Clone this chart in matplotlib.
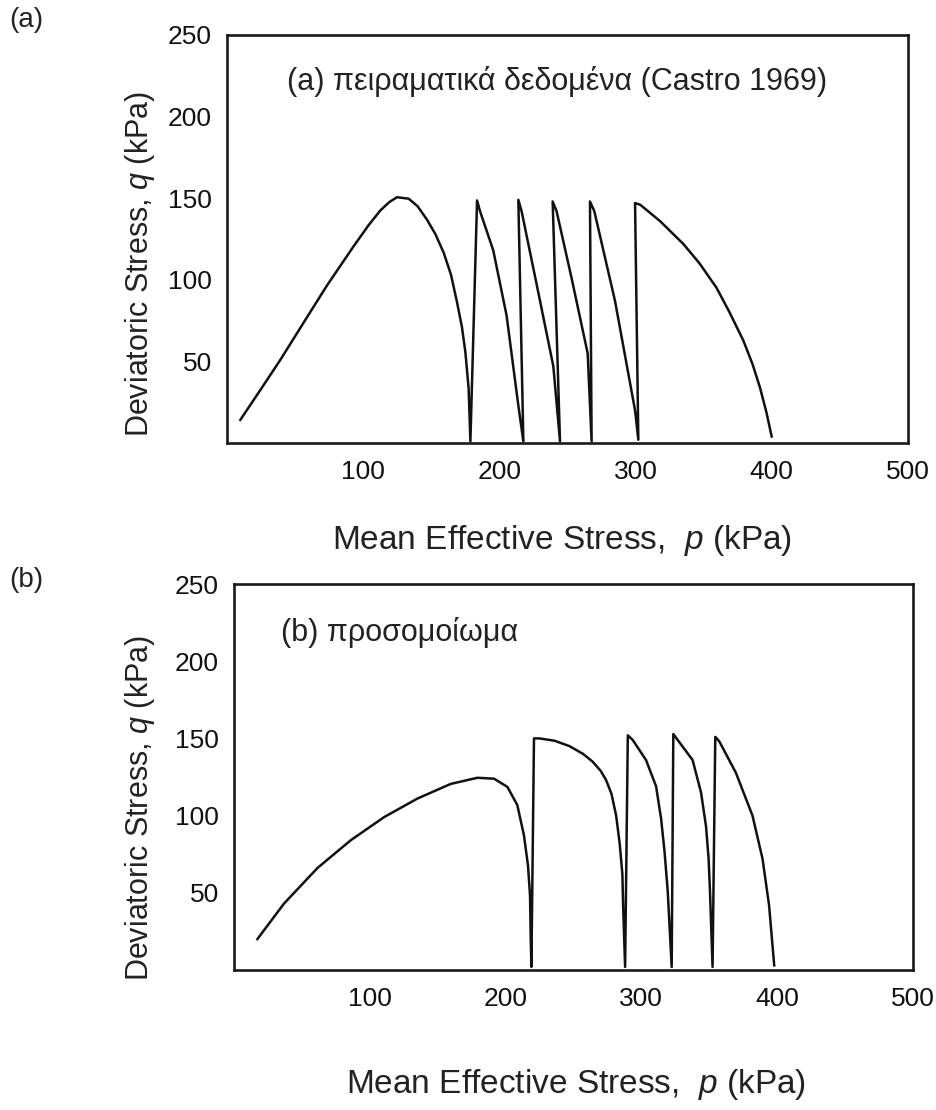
import numpy as np
import matplotlib
matplotlib.use("Agg")
import matplotlib.pyplot as plt

plt.rcParams['font.family'] = ['Liberation Sans', 'DejaVu Sans']
plt.rcParams['mathtext.fontset'] = 'custom'
plt.rcParams['mathtext.rm'] = 'Liberation Sans'
plt.rcParams['mathtext.it'] = 'Liberation Sans:italic'

# ---------------- data ----------------
# (a) experimental data, Castro 1969
p_a = [9.8, 24.5, 39.2, 58.7, 73.4, 93.0, 104.0, 112.6, 119.0, 124.8, 133.4, 140.0, 146.8, 153.0, 159.1,
       164.5, 168.9, 172.5, 175.0, 177.4, 178.7,
       183.6, 185.8, 195.5, 205.3, 213.9, 217.6,
       213.9, 216.3, 227.4, 239.6, 244.5,
       239.1, 242.0, 253.0, 264.8, 267.7,
       266.5, 269.7, 284.9, 299.6, 302.0,
       299.6, 303.4, 317.9, 335.0, 347.0, 359.5, 369.0, 379.0, 386.0, 391.3, 396.0, 399.9]
q_a = [14.2, 32.5, 51.0, 77.0, 96.5, 120.6, 133.5, 142.5, 147.5, 150.6, 149.7, 145.0, 136.9, 128.0, 116.6,
       103.0, 86.2, 71.0, 55.8, 33.5, 1,
       148.6, 142, 118, 78, 23, 1,
       149, 142, 97, 47, 1,
       148, 142, 101, 55, 1,
       148, 142, 87, 20, 2,
       147, 146, 136, 122, 110, 95, 80, 63, 48, 34, 19, 4]

# (b) model simulation
p_b = [17.2, 36.8, 61.4, 85.9, 110.5, 135.0, 159.5, 179.2, 191.5, 201.3, 208.6, 213.5, 216.5, 218.0, 218.5, 219.0,
       220.9, 225, 236, 247, 257, 264, 270, 274, 278, 281.4, 284, 286, 286.5, 288,
       290, 293.6, 303.4, 310.8, 314.5, 317, 319.4, 322.3,
       323.5, 326.7, 337.7, 343.9, 347.6, 349.5, 350.5, 352.4,
       354.4, 357.4, 369.6, 381.8, 389.2, 394.0, 397.8]
q_b = [20, 43, 66, 84, 99, 111, 120.5, 124.5, 123.9, 118.6, 106.9, 87.3, 67.6, 48, 20.6, 2,
       150, 150, 148.5, 145, 140, 135, 129, 123, 114, 100, 82, 62, 43, 2,
       152, 149, 136, 119, 98, 77, 51, 2,
       152.8, 149, 136, 115, 93, 72, 51, 2,
       151, 148, 127.7, 100, 72, 42, 3]

x_ticks = [100, 200, 300, 400, 500]
y_ticks = [50, 100, 150, 200, 250]

xlabel = 'Mean Effective Stress,  $p$ (kPa)'
ylabel = 'Deviatoric Stress, $q$ (kPa)'
title_a = '(a) πειραματικά δεδομένα (Castro 1969)'
title_b = '(b) προσομοίωμα'

# ---------------- figure ----------------
fig = plt.figure(figsize=(9.37, 11.10), dpi=100)
W, H = 937, 1110

def make_axes(l, t, r, b):
    return fig.add_axes([l / W, 1 - b / H, (r - l) / W, (b - t) / H])

ax_a = make_axes(227, 35, 908, 443)
ax_b = make_axes(234, 584, 913, 970)

for ax, p, q, ttl, tx, ty in [(ax_a, p_a, q_a, title_a, 0.088, 0.885),
                              (ax_b, p_b, q_b, title_b, 0.069, 0.875)]:
    ax.plot(p, q, color='#111111', lw=1.8, solid_joinstyle='round')
    ax.set_xlim(0, 500)
    ax.set_ylim(0, 250)
    ax.set_xticks(x_ticks)
    ax.set_yticks(y_ticks)
    ax.tick_params(axis='both', direction='in', length=0, labelsize=19,
                   colors='#111111')
    ax.tick_params(axis='x', pad=12)
    ax.tick_params(axis='y', pad=11)
    for s in ax.spines.values():
        s.set_linewidth(1.9)
        s.set_color('#1a1a1a')
    ax.text(tx, ty, ttl, transform=ax.transAxes, fontsize=22,
            color='#222222', ha='left', va='center')

# axis labels placed like the scanned figure
fig.text(140 / W, 1 - 264 / H, ylabel, rotation=90, fontsize=22,
         ha='center', va='center', color='#222222')
fig.text(140 / W, 1 - 808 / H, ylabel, rotation=90, fontsize=22,
         ha='center', va='center', color='#222222')
fig.text(562 / W, 1 - 540 / H, xlabel, fontsize=24,
         ha='center', va='center', color='#222222')
fig.text(576 / W, 1 - 1085 / H, xlabel, fontsize=24,
         ha='center', va='center', color='#222222')

fig.text(26 / W, 1 - 20 / H, '(a)', fontsize=20, ha='center', va='center', color='#222222')
fig.text(26 / W, 1 - 580 / H, '(b)', fontsize=20, ha='center', va='center', color='#222222')

fig.savefig('out.png', dpi=100, facecolor='white')
